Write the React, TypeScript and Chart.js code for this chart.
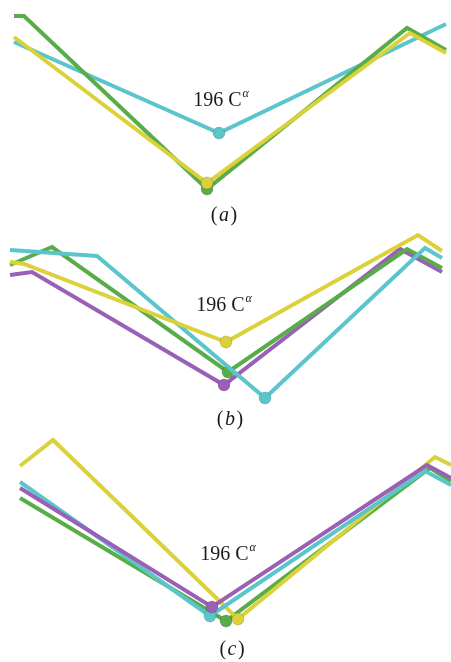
import React, { useEffect, useRef } from "react";
import { Chart, registerables } from "chart.js";

Chart.register(...registerables);

// Picture-space coordinates (x to the right, y downward) of each backbone trace.
// Panel (a)
const aGreenX = [14, 24, 207, 407, 446];
const aGreenY = [16, 16, 189, 28, 50];
const aYellowX = [14, 207, 410, 446];
const aYellowY = [37, 183, 33, 53];
const aCyanX = [14, 219, 446];
const aCyanY = [42, 133, 24];

// Panel (b)
const bCyanX = [10, 97, 265, 425, 442];
const bCyanY = [250, 256, 398, 248, 258];
const bGreenX = [10, 52, 228, 407, 442];
const bGreenY = [265, 247, 372, 249, 268];
const bYellowX = [10, 24, 226, 418, 442];
const bYellowY = [262, 264, 342, 235, 251];
const bPurpleX = [10, 32, 224, 400, 442];
const bPurpleY = [275, 272, 385, 249, 272];

// Panel (c)
const cYellowX = [20, 53, 238, 435, 451];
const cYellowY = [466, 440, 619, 457, 465];
const cCyanX = [20, 210, 425, 451];
const cCyanY = [482, 616, 471, 485];
const cPurpleX = [20, 212, 427, 451];
const cPurpleY = [488, 607, 465, 478];
const cGreenX = [20, 226, 430, 451];
const cGreenY = [498, 621, 468, 481];

// Index of the 196 Cα atom in each trace
const aMarkers = { green: 2, yellow: 1, cyan: 1 };
const bMarkers = { cyan: 2, green: 2, yellow: 2, purple: 2 };
const cMarkers = { yellow: 2, cyan: 1, purple: 1, green: 1 };

// Text annotations
const atomLabel = "196 C";
const atomSup = "α";
const atomLabelX = [221, 224, 228];
const atomLabelY = [101, 306, 555];
const panelLabels = ["(a)", "(b)", "(c)"];
const panelLabelX = [224, 230, 232];
const panelLabelY = [216, 420, 650];

const COLORS: Record<string, string> = {
  cyan: "#5bc5cc",
  yellow: "#dbd13a",
  green: "#58ad48",
  purple: "#9a60b6",
};

function pts(xs: number[], ys: number[]) {
  return xs.map((x, i) => ({ x, y: ys[i] }));
}

function ds(xs: number[], ys: number[], color: string, marker: number) {
  const c = COLORS[color];
  return {
    label: color,
    data: pts(xs, ys),
    showLine: true,
    borderColor: c,
    backgroundColor: c,
    borderWidth: 4,
    borderJoinStyle: "miter" as const,
    pointRadius: (ctx: any) => (ctx.dataIndex === marker ? 6 : 0),
    pointHoverRadius: 0,
    pointBackgroundColor: c,
    pointBorderColor: "rgba(0,0,0,0.15)",
    pointBorderWidth: 1,
    tension: 0,
    clip: false as const,
  };
}

const SERIF = "'Liberation Serif', 'DejaVu Serif', serif";

const textPlugin = {
  id: "annotText",
  afterDatasetsDraw(chart: any) {
    const { ctx, scales } = chart;
    const xs = scales.x;
    const ys = scales.y;
    ctx.save();
    ctx.fillStyle = "#1a1a1a";
    ctx.textBaseline = "middle";
    for (let i = 0; i < atomLabelX.length; i++) {
      const px = xs.getPixelForValue(atomLabelX[i]);
      const py = ys.getPixelForValue(atomLabelY[i]);
      ctx.font = `20px ${SERIF}`;
      const w1 = ctx.measureText(atomLabel).width;
      ctx.font = `italic 12px ${SERIF}`;
      const w2 = ctx.measureText(atomSup).width;
      const start = px - (w1 + w2 + 1) / 2;
      ctx.textAlign = "left";
      ctx.font = `20px ${SERIF}`;
      ctx.fillText(atomLabel, start, py);
      ctx.font = `italic 12px ${SERIF}`;
      ctx.fillText(atomSup, start + w1 + 1, py - 7);
    }
    for (let i = 0; i < panelLabels.length; i++) {
      const px = xs.getPixelForValue(panelLabelX[i]);
      const py = ys.getPixelForValue(panelLabelY[i]);
      const t = panelLabels[i];
      const inner = t.slice(1, -1);
      ctx.font = `20px ${SERIF}`;
      const wp = ctx.measureText("(").width;
      ctx.font = `italic 20px ${SERIF}`;
      const wi = ctx.measureText(inner).width;
      const total = wp * 2 + wi + 3;
      const x0 = px - total / 2;
      ctx.textAlign = "left";
      ctx.font = `20px ${SERIF}`;
      ctx.fillText("(", x0, py);
      ctx.font = `italic 20px ${SERIF}`;
      ctx.fillText(inner, x0 + wp + 1.5, py);
      ctx.font = `20px ${SERIF}`;
      ctx.fillText(")", x0 + wp + wi + 3, py);
    }
    ctx.restore();
  },
};

export default function App() {
  const ref = useRef<HTMLCanvasElement | null>(null);
  useEffect(() => {
    if (!ref.current) return;
    const chart = new Chart(ref.current, {
      type: "scatter",
      data: {
        datasets: [
          // panel (a) — first dataset is drawn on top
          ds(aYellowX, aYellowY, "yellow", aMarkers.yellow),
          ds(aGreenX, aGreenY, "green", aMarkers.green),
          ds(aCyanX, aCyanY, "cyan", aMarkers.cyan),
          // panel (b)
          ds(bYellowX, bYellowY, "yellow", bMarkers.yellow),
          ds(bCyanX, bCyanY, "cyan", bMarkers.cyan),
          ds(bGreenX, bGreenY, "green", bMarkers.green),
          ds(bPurpleX, bPurpleY, "purple", bMarkers.purple),
          // panel (c)
          ds(cPurpleX, cPurpleY, "purple", cMarkers.purple),
          ds(cCyanX, cCyanY, "cyan", cMarkers.cyan),
          ds(cYellowX, cYellowY, "yellow", cMarkers.yellow),
          ds(cGreenX, cGreenY, "green", cMarkers.green),
        ] as any,
      },
      options: {
        animation: false,
        responsive: false,
        layout: { padding: 0 },
        plugins: {
          legend: { display: false },
          tooltip: { enabled: false },
          title: { display: false },
        },
        events: [],
        scales: {
          x: { type: "linear", min: 0, max: 451, display: false },
          y: { type: "linear", min: 0, max: 662, reverse: true, display: false },
        },
      },
      plugins: [textPlugin],
    });
    return () => chart.destroy();
  }, []);

  return (
    <div
      style={{
        position: "fixed",
        left: 0,
        top: 0,
        width: 451,
        height: 662,
        background: "#ffffff",
      }}
    >
      <canvas ref={ref} width={451} height={662} style={{ display: "block" }} />
    </div>
  );
}
